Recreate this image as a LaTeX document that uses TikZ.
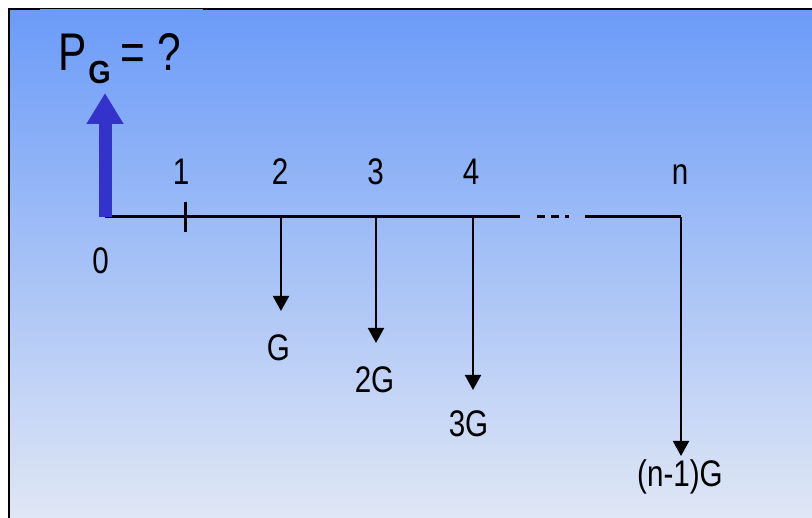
\documentclass[tikz,border=0pt]{standalone}
\usepackage{fontspec}
\setmainfont{Liberation Sans}
\usepackage{graphicx}
\usetikzlibrary{arrows.meta}
\definecolor{bgtop}{RGB}{107,155,248}
\definecolor{bgbottom}{RGB}{224,231,245}
\definecolor{cashblue}{RGB}{51,51,204}
\newcommand{\narrow}[1]{\scalebox{0.8}[1]{#1}}
\tikzset{
  lbl/.style={inner sep=0pt, anchor=base, font=\fontsize{37}{40}\selectfont},
  bigtxt/.style={inner sep=0pt, anchor=base, font=\fontsize{53}{56}\selectfont},
  subtxt/.style={inner sep=0pt, anchor=base, font=\fontsize{32}{34}\selectfont\bfseries},
  axis/.style={line width=3pt, black},
  flow/.style={line width=2pt, black, -{Triangle[width=16pt,length=15pt]}},
  receipt/.style={line width=13pt, cashblue, -{Triangle[width=35pt,length=31pt]}}
}
\begin{document}
\begin{tikzpicture}[x=1pt, y=-1pt]
  \useasboundingbox (0,0) rectangle (812,518);
  \fill[white] (0,0) rectangle (812,518);
  % slide background
  \shade[top color=bgtop, bottom color=bgbottom] (9,9) rectangle (812,518);
  % frame
  \draw[line width=2.5pt] (9,518) -- (9,9) -- (40,9);
  \draw[line width=1pt] (40,8.3) -- (203,8.3);
  \draw[line width=2.5pt] (203,9) -- (812,9);

  % time points
  \coordinate (t0) at (105,217);
  \coordinate (t1) at (185,217);
  \coordinate (t2) at (281,217);
  \coordinate (t3) at (376,217);
  \coordinate (t4) at (473,217);
  \coordinate (tn) at (681,217);
  \coordinate (gapA) at (520,217);
  \coordinate (dotA) at (537,217);
  \coordinate (dotB) at (569,217);
  \coordinate (gapB) at (585,217);
  \coordinate (tickT) at (185,202);
  \coordinate (tickB) at (185,232);
  \coordinate (e2) at (281,311);
  \coordinate (e3) at (376,343);
  \coordinate (e4) at (473,390);
  \coordinate (en) at (681,456);
  \coordinate (pg) at (105,93);

  % time axis
  \draw[axis] (t0) -- (gapA);
  \draw[axis, dash pattern=on 8pt off 6pt on 8pt off 6pt on 4pt off 20pt] (dotA) -- (dotB);
  \draw[axis] (gapB) -- (tn);
  \draw[axis] (tickT) -- (tickB);

  % present worth
  \draw[receipt] (t0) -- (pg);

  % gradient payments
  \draw[flow] (t2) -- (e2);
  \draw[flow] (t3) -- (e3);
  \draw[flow] (t4) -- (e4);
  \draw[flow] (tn) -- (en);

  % period numbers
  \node[lbl] (n0) at (100.5,274) {\narrow{0}};
  \node[lbl] (n1) at (181,185) {\narrow{1}};
  \node[lbl] (n2) at (280,185) {\narrow{2}};
  \node[lbl] (n3) at (375.5,185) {\narrow{3}};
  \node[lbl] (n4) at (471,185) {\narrow{4}};
  \node[lbl] (nn) at (680,185) {\narrow{n}};

  % payment amounts
  \node[lbl] (g1) at (278.5,361) {\narrow{G}};
  \node[lbl] (g2) at (374.5,393) {\narrow{2G}};
  \node[lbl] (g3) at (468.5,437) {\narrow{3G}};
  \node[lbl] (gn) at (680,487) {\narrow{(n-1)G}};

  % title
  \node[bigtxt] (tP) at (73,71) {\narrow{P}};
  \node[subtxt] (tG) at (99.5,84) {\scalebox{0.9}[1]{G}};
  \node[bigtxt] (tEq) at (151,71) {\narrow{= ?}};
\end{tikzpicture}
\end{document}
